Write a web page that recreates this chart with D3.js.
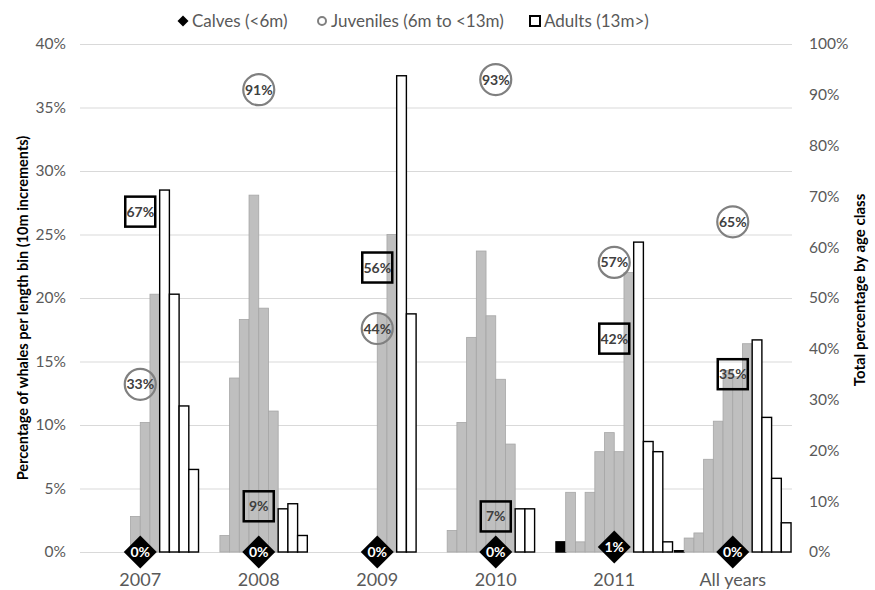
<!DOCTYPE html>
<html>
<head>
<meta charset="utf-8">
<script src="https://cdn.jsdelivr.net/npm/d3@7"></script>
<style>
  body { margin: 0; background: #fff; }
  svg { display: block; }
</style>
</head>
<body>
<div id="chart"></div>
<script>
// length-bin percentages per year (12 bins: 1 calf, 7 juvenile, 4 adult)
const categories = ["2007", "2008", "2009", "2010", "2011", "All years"]
const binClass = ["Calves", "Juveniles", "Juveniles", "Juveniles", "Juveniles", "Juveniles", "Juveniles", "Juveniles", "Adults", "Adults", "Adults", "Adults"]
const bins2007 = [0, 0, 0, 0, 0, 2.8, 10.2, 20.3, 28.5, 20.3, 11.5, 6.5]
const bins2008 = [0, 0, 1.3, 13.7, 18.3, 28.1, 19.2, 11.1, 3.4, 3.8, 1.3, 0]
const bins2009 = [0, 0, 0, 0, 0, 0, 18.75, 25, 37.5, 18.75, 0, 0]
const bins2010 = [0, 1.7, 10.2, 16.9, 23.7, 18.6, 13.6, 8.5, 3.4, 3.4, 0, 0]
const bins2011 = [0.8, 4.7, 0.8, 4.7, 7.9, 9.4, 7.9, 22.0, 24.4, 8.7, 7.9, 0.8]
const binsAll = [0.1, 1.1, 1.5, 7.3, 10.3, 14.3, 13.8, 16.4, 16.7, 10.6, 5.8, 2.3]
const allBins = [bins2007, bins2008, bins2009, bins2010, bins2011, binsAll]

// totals by age class (right axis)
const calvesTotal = [0, 0, 0, 0, 1, 0]
const juvenilesTotal = [33, 91, 44, 93, 57, 65]
const adultsTotal = [67, 9, 56, 7, 42, 35]

const leftTicks = [0, 5, 10, 15, 20, 25, 30, 35, 40]
const rightTicks = [0, 10, 20, 30, 40, 50, 60, 70, 80, 90, 100]
const legendNames = ["Calves (<6m)", "Juveniles (6m to <13m)", "Adults (13m>)"]

const width = 875
const height = 590
const plotL = 81, plotR = 792, plotT = 44, plotB = 552
const font = "Lato, 'Open Sans', sans-serif"

const svg = d3.select("#chart")
    .append("svg")
    .attr("width", width)
    .attr("height", height)
    .attr("font-family", font)

const x = d3.scaleBand().domain(categories).range([plotL, plotR]).padding(0)
const xBin = d3.scaleBand().domain(d3.range(12)).range([0, x.bandwidth()]).paddingInner(0).paddingOuter(0.1)
const y = d3.scaleLinear().domain([0, 40]).range([plotB, plotT])
const y2 = d3.scaleLinear().domain([0, 100]).range([plotB, plotT])

// gridlines + left axis
const yAxis = svg.append("g")
    .attr("transform", `translate(${plotL - 1},0)`)
    .call(d3.axisLeft(y).tickValues(leftTicks).tickFormat(d => d + "%").tickSize(-(plotR - plotL + 1)).tickPadding(14))
yAxis.select(".domain").remove()
yAxis.selectAll("line").attr("stroke", "#d9d9d9")
yAxis.selectAll("text").attr("fill", "#595959").attr("font-size", 15.5).attr("font-family", font)

// right axis
const y2Axis = svg.append("g")
    .attr("transform", `translate(${plotR},0)`)
    .call(d3.axisRight(y2).tickValues(rightTicks).tickFormat(d => d + "%").tickSize(0).tickPadding(17))
y2Axis.select(".domain").remove()
y2Axis.selectAll("text").attr("fill", "#595959").attr("font-size", 15.5).attr("font-family", font)

// bars
const fills = { Calves: "#000", Juveniles: "#bfbfbf", Adults: "#fff" }
const strokes = { Calves: "#000", Juveniles: "#a6a6a6", Adults: "#000" }
const groups = svg.append("g")
    .selectAll("g")
    .data(categories)
    .join("g")
    .attr("transform", d => `translate(${x(d)},0)`)

groups.selectAll("rect")
    .data((d, i) => allBins[i].map((v, b) => ({ v, b })).filter(e => e.v > 0))
    .join("rect")
    .attr("x", d => xBin(d.b))
    .attr("width", xBin.bandwidth())
    .attr("y", d => y(d.v))
    .attr("height", d => plotB - y(d.v))
    .attr("fill", d => fills[binClass[d.b]])
    .attr("stroke", d => strokes[binClass[d.b]])
    .attr("stroke-width", d => binClass[d.b] == "Juveniles" ? 0.8 : 1.4)

// category labels
svg.append("g")
    .selectAll("text")
    .data(categories)
    .join("text")
    .attr("x", d => x(d) + x.bandwidth() / 2)
    .attr("y", 586)
    .attr("text-anchor", "middle")
    .attr("font-size", 18)
    .attr("fill", "#595959")
    .text(d => d)

// markers
const cx = i => x(categories[i]) + x.bandwidth() / 2
const markers = svg.append("g")

markers.selectAll(".sq")
    .data(adultsTotal)
    .join("rect")
    .attr("class", "sq")
    .attr("x", (d, i) => cx(i) - 15)
    .attr("y", d => y2(d) - 15)
    .attr("width", 30)
    .attr("height", 30)
    .attr("fill", "none")
    .attr("stroke", "#000")
    .attr("stroke-width", 2.5)

markers.selectAll(".circ")
    .data(juvenilesTotal)
    .join("circle")
    .attr("class", "circ")
    .attr("cx", (d, i) => cx(i))
    .attr("cy", d => y2(d))
    .attr("r", 15.5)
    .attr("fill", "none")
    .attr("stroke", "#808080")
    .attr("stroke-width", 2.2)

markers.selectAll(".dia")
    .data(calvesTotal)
    .join("path")
    .attr("class", "dia")
    .attr("d", (d, i) => `M${cx(i)},${y2(d) - 16.5}L${cx(i) + 16.5},${y2(d)}L${cx(i)},${y2(d) + 16.5}L${cx(i) - 16.5},${y2(d)}Z`)
    .attr("fill", "#000")

const labelSets = [[adultsTotal, "#404040"], [juvenilesTotal, "#404040"], [calvesTotal, "#fff"]]
labelSets.forEach(([vals, col]) => {
    markers.append("g")
        .selectAll("text")
        .data(vals)
        .join("text")
        .attr("x", (d, i) => cx(i))
        .attr("y", d => y2(d))
        .attr("dy", "0.36em")
        .attr("text-anchor", "middle")
        .attr("font-size", 14)
        .attr("font-weight", "bold")
        .attr("fill", col)
        .text(d => d + "%")
})

// axis titles
svg.append("text")
    .attr("transform", "translate(28,308) rotate(-90)")
    .attr("text-anchor", "middle")
    .attr("font-size", 14.5)
    .attr("font-weight", "bold")
    .text("Percentage of whales per length bin (10m increments)")

svg.append("text")
    .attr("transform", "translate(865,290) rotate(-90)")
    .attr("text-anchor", "middle")
    .attr("font-size", 15)
    .attr("font-weight", "bold")
    .text("Total percentage by age class")

// legend
const legendX = [183, 322, 535]
const legend = svg.append("g")
legend.append("path")
    .attr("d", `M${legendX[0]},15.5L${legendX[0] + 5.5},21L${legendX[0]},26.5L${legendX[0] - 5.5},21Z`)
    .attr("fill", "#000")
legend.append("circle")
    .attr("cx", legendX[1]).attr("cy", 21).attr("r", 4)
    .attr("fill", "none").attr("stroke", "#808080").attr("stroke-width", 2)
legend.append("rect")
    .attr("x", legendX[2] - 5).attr("y", 16).attr("width", 10).attr("height", 10)
    .attr("fill", "none").attr("stroke", "#000").attr("stroke-width", 2)
legend.selectAll("text")
    .data(legendNames)
    .join("text")
    .attr("x", (d, i) => legendX[i] + 9)
    .attr("y", 21)
    .attr("dy", "0.35em")
    .attr("font-size", 17)
    .attr("fill", "#595959")
    .text(d => d)
</script>
</body>
</html>
